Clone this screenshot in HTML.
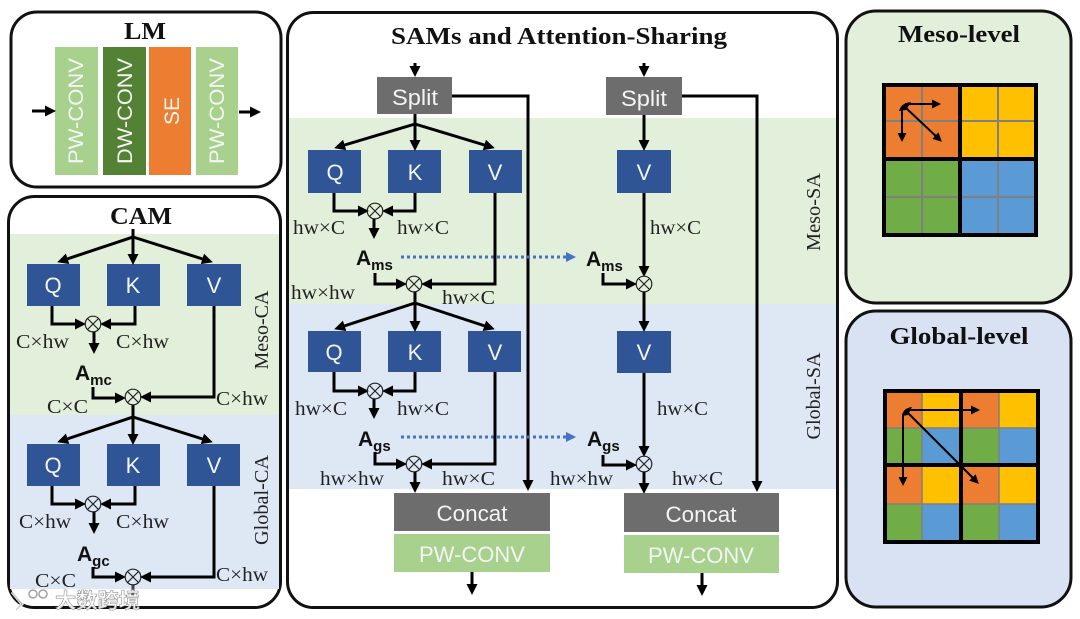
<!DOCTYPE html>
<html><head><meta charset="utf-8"><style>
html,body{margin:0;padding:0;background:#fff;width:1080px;height:619px;overflow:hidden}
svg{display:block}
.s{font-family:"Liberation Serif",serif;font-size:20px;fill:#222}
.t{font-family:"Liberation Serif",serif;font-weight:bold;fill:#111}
.w{font-family:"Liberation Sans",sans-serif;fill:#f4f4f4;text-anchor:middle}
.a{font-family:"Liberation Sans",sans-serif;font-weight:bold;fill:#111;font-size:21px}
.a tspan{font-size:15px}
.l{fill:none;stroke:#000;stroke-width:3}
.h{fill:none;stroke:#000;stroke-width:3;marker-end:url(#m)}
.p{fill:none;stroke:#000;stroke-width:3;stroke-linejoin:miter}
.x{fill:none;stroke:#222;stroke-width:1.2}
.g{stroke:#808080;stroke-width:2}
.k{stroke:#000;stroke-width:4;fill:none}
.n{stroke:#000;stroke-width:2;fill:none;marker-end:url(#n)}
</style></head><body>
<svg width="1080" height="619" viewBox="0 0 1080 619" xmlns="http://www.w3.org/2000/svg">
<defs>
<marker id="m" markerUnits="userSpaceOnUse" markerWidth="13" markerHeight="13" refX="7" refY="5.5" orient="auto"><path d="M0,0L11,5.5L0,11z" fill="#000"/></marker>
<marker id="n" markerUnits="userSpaceOnUse" markerWidth="11" markerHeight="11" refX="5" refY="4.5" orient="auto"><path d="M0,0L9,4.5L0,9z" fill="#000"/></marker>
<marker id="b" markerUnits="userSpaceOnUse" markerWidth="12" markerHeight="12" refX="1" refY="5" orient="auto"><path d="M0,0L10,5L0,10z" fill="#4472c4"/></marker>
<symbol id="o" overflow="visible"><circle cx="0" cy="0" r="7.8" class="x"/><path d="M-5.5,-5.5L5.5,5.5M-5.5,5.5L5.5,-5.5" class="x"/></symbol>
</defs>

<!-- LM -->
<rect x="11" y="12" width="270" height="175" rx="26" fill="#fff" stroke="#111" stroke-width="3"/>
<text class="t" x="145" y="39" font-size="24" text-anchor="middle" textLength="42" lengthAdjust="spacingAndGlyphs">LM</text>
<rect x="55" y="47" width="43" height="128" fill="#a9d18e"/>
<rect x="103" y="47" width="43" height="128" fill="#548235"/>
<rect x="149" y="47" width="42" height="128" fill="#ed7d31"/>
<rect x="196" y="47" width="42" height="128" fill="#a9d18e"/>
<text transform="translate(83,111) rotate(-90)" class="w" font-size="21" textLength="106" lengthAdjust="spacingAndGlyphs">PW-CONV</text>
<text transform="translate(132,111) rotate(-90)" class="w" font-size="21" textLength="106" lengthAdjust="spacingAndGlyphs">DW-CONV</text>
<text transform="translate(179,111) rotate(-90)" class="w" font-size="21">SE</text>
<text transform="translate(224,111) rotate(-90)" class="w" font-size="21" textLength="106" lengthAdjust="spacingAndGlyphs">PW-CONV</text>
<path class="h" d="M32,111H52"/><path class="h" d="M239,112H257"/>

<!-- CAM -->
<rect x="8.5" y="196.5" width="272" height="411" rx="26" fill="#fff" stroke="#111" stroke-width="3"/>
<rect x="10" y="234" width="269" height="181" fill="#e2efda"/>
<rect x="10" y="415" width="269" height="174" fill="#dee8f5"/>
<text class="t" x="141" y="224" font-size="24" text-anchor="middle" textLength="62" lengthAdjust="spacingAndGlyphs">CAM</text>
<g fill="#2f5597">
<rect x="27" y="264" width="53" height="42"/><rect x="107" y="264" width="53" height="42"/><rect x="187" y="264" width="54" height="42"/>
<rect x="27" y="444" width="53" height="42"/><rect x="107" y="444" width="53" height="42"/><rect x="187" y="444" width="53" height="42"/>
</g>
<g class="w" font-size="22">
<text x="53" y="293">Q</text><text x="133" y="293">K</text><text x="214" y="293">V</text>
<text x="53" y="473">Q</text><text x="133" y="473">K</text><text x="214" y="473">V</text>
</g>
<path class="l" d="M133,229V237"/>
<path class="h" d="M133,237L61,261"/><path class="h" d="M133,237V261"/><path class="h" d="M133,237L209,261"/>
<path class="p" d="M52,306V324H82"/><path class="h" d="M52,324H82"/>
<path class="p" d="M135,306V324H104"/><path class="h" d="M135,324H104"/>
<use href="#o" x="93" y="324"/>
<path class="h" d="M94,332V350"/>
<text class="a" x="75" y="380">A<tspan dy="5">mc</tspan></text>
<path class="p" d="M93,387V398H122"/><path class="h" d="M93,398H122"/>
<use href="#o" x="133" y="397"/>
<path class="p" d="M214,306V397H144"/><path class="h" d="M214,397H144"/>
<path class="l" d="M133,405V417"/>
<path class="h" d="M133,417L61,441"/><path class="h" d="M133,417V441"/><path class="h" d="M133,417L209,441"/>
<path class="p" d="M52,486V504H82"/><path class="h" d="M52,504H82"/>
<path class="p" d="M135,486V504H104"/><path class="h" d="M135,504H104"/>
<use href="#o" x="93" y="504"/>
<path class="h" d="M94,512V530"/>
<text class="a" x="77" y="561">A<tspan dy="5">gc</tspan></text>
<path class="p" d="M93,567V577H122"/><path class="h" d="M93,577H122"/>
<use href="#o" x="133" y="577"/>
<path class="p" d="M214,486V577H144"/><path class="h" d="M214,577H144"/>
<path class="l" d="M133,585V596" stroke-opacity=".7"/>
<g class="s">
<text x="16" y="348" textLength="53" lengthAdjust="spacingAndGlyphs">C×hw</text><text x="116" y="348" textLength="53" lengthAdjust="spacingAndGlyphs">C×hw</text>
<text x="47" y="413" textLength="41" lengthAdjust="spacingAndGlyphs">C×C</text><text x="216" y="405" textLength="52" lengthAdjust="spacingAndGlyphs">C×hw</text>
<text x="19" y="528" textLength="52" lengthAdjust="spacingAndGlyphs">C×hw</text><text x="116" y="528" textLength="53" lengthAdjust="spacingAndGlyphs">C×hw</text>
<text x="35" y="587" textLength="41" lengthAdjust="spacingAndGlyphs">C×C</text><text x="216" y="581" textLength="52" lengthAdjust="spacingAndGlyphs">C×hw</text>
</g>
<text class="s" transform="translate(268,330) rotate(-90)" text-anchor="middle" textLength="79" lengthAdjust="spacingAndGlyphs">Meso-CA</text>
<text class="s" transform="translate(268,500) rotate(-90)" text-anchor="middle" textLength="90" lengthAdjust="spacingAndGlyphs">Global-CA</text>

<!-- SAM panel -->
<rect x="287.5" y="12.5" width="550" height="595" rx="26" fill="#fff" stroke="#111" stroke-width="3"/>
<rect x="289" y="118" width="547" height="186" fill="#e2efda"/>
<rect x="289" y="304" width="547" height="185" fill="#dee8f5"/>
<text class="t" x="559" y="44" font-size="24" text-anchor="middle" textLength="336" lengthAdjust="spacingAndGlyphs">SAMs and Attention-Sharing</text>
<rect x="377" y="77" width="75" height="37" fill="#6d6d6d"/>
<rect x="606" y="77" width="76" height="38" fill="#6d6d6d"/>
<g fill="#2f5597">
<rect x="308" y="150" width="53" height="43"/><rect x="388" y="150" width="53" height="43"/><rect x="469" y="150" width="53" height="43"/>
<rect x="308" y="331" width="53" height="41"/><rect x="388" y="331" width="53" height="41"/><rect x="468" y="331" width="53" height="41"/>
<rect x="617" y="150" width="54" height="43"/><rect x="617" y="331" width="54" height="42"/>
</g>
<g class="w" font-size="22">
<text x="415" y="105" textLength="46" lengthAdjust="spacingAndGlyphs">Split</text>
<text x="644" y="106" textLength="46" lengthAdjust="spacingAndGlyphs">Split</text>
<text x="335" y="180">Q</text><text x="415" y="180">K</text><text x="495" y="180">V</text>
<text x="334" y="360">Q</text><text x="415" y="360">K</text><text x="495" y="360">V</text>
<text x="644" y="180">V</text><text x="644" y="360">V</text>
</g>
<path class="h" d="M415,63V73"/>
<path class="l" d="M415,114V124"/>
<path class="h" d="M415,124L338,147"/><path class="h" d="M415,124V147"/><path class="h" d="M415,124L491,147"/>
<path class="p" d="M452,96H528V484"/><path class="h" d="M528,96V487"/>
<path class="p" d="M334,193V211H365"/><path class="h" d="M334,211H365"/>
<path class="p" d="M415,193V211H386"/><path class="h" d="M415,211H386"/>
<use href="#o" x="375" y="211"/>
<path class="h" d="M374,219V235"/>
<text class="a" x="356" y="265">A<tspan dy="5">ms</tspan></text>
<path d="M401,257H567" fill="none" stroke="#4472c4" stroke-width="3" stroke-dasharray="3 3" marker-end="url(#b)"/>
<path class="p" d="M375,273V284H403"/><path class="h" d="M375,284H403"/>
<use href="#o" x="414" y="284"/>
<path class="p" d="M495,193V284H425"/><path class="h" d="M495,284H425"/>
<path class="l" d="M415,292V303"/>
<path class="h" d="M415,303L338,328"/><path class="h" d="M415,303V328"/><path class="h" d="M415,303L491,328"/>
<path class="p" d="M334,372V391H365"/><path class="h" d="M334,391H365"/>
<path class="p" d="M415,372V391H386"/><path class="h" d="M415,391H386"/>
<use href="#o" x="375" y="391"/>
<path class="h" d="M374,399V415"/>
<text class="a" x="358" y="446">A<tspan dy="5">gs</tspan></text>
<path d="M401,437H567" fill="none" stroke="#4472c4" stroke-width="3" stroke-dasharray="3 3" marker-end="url(#b)"/>
<path class="p" d="M375,452V464H403"/><path class="h" d="M375,464H403"/>
<use href="#o" x="414" y="464"/>
<path class="p" d="M495,372V464H425"/><path class="h" d="M495,464H425"/>
<path class="h" d="M415,472V489"/>

<path class="h" d="M644,63V73"/>
<path class="h" d="M644,115V147"/>
<path class="p" d="M682,96H757V486"/><path class="h" d="M757,96V488"/>
<path class="h" d="M644,193V273"/>
<use href="#o" x="644" y="284"/>
<text class="a" x="586" y="266">A<tspan dy="5">ms</tspan></text>
<path class="p" d="M603,273V284H633"/><path class="h" d="M603,284H633"/>
<path class="h" d="M644,292V328"/>
<path class="h" d="M644,373V453"/>
<use href="#o" x="644" y="464"/>
<text class="a" x="587" y="446">A<tspan dy="5">gs</tspan></text>
<path class="p" d="M603,455V465H633"/><path class="h" d="M603,465H633"/>
<path class="h" d="M644,472V490"/>

<rect x="394" y="493" width="156" height="38" fill="#6d6d6d"/>
<rect x="394" y="534" width="156" height="38" fill="#a9d18e"/>
<rect x="624" y="493" width="155" height="39" fill="#6d6d6d"/>
<rect x="624" y="535" width="155" height="38" fill="#a9d18e"/>
<g class="w" font-size="22">
<text x="472" y="521" textLength="71" lengthAdjust="spacingAndGlyphs">Concat</text>
<text x="472" y="562" textLength="106" lengthAdjust="spacingAndGlyphs">PW-CONV</text>
<text x="701" y="522" textLength="71" lengthAdjust="spacingAndGlyphs">Concat</text>
<text x="701" y="563" textLength="106" lengthAdjust="spacingAndGlyphs">PW-CONV</text>
</g>
<path class="h" d="M472,572V591"/><path class="h" d="M702,573V592"/>
<g class="s">
<text x="293" y="234" textLength="52" lengthAdjust="spacingAndGlyphs">hw×C</text><text x="397" y="234" textLength="52" lengthAdjust="spacingAndGlyphs">hw×C</text>
<text x="291" y="299" textLength="64" lengthAdjust="spacingAndGlyphs">hw×hw</text><text x="442" y="304" textLength="53" lengthAdjust="spacingAndGlyphs">hw×C</text>
<text x="295" y="415" textLength="52" lengthAdjust="spacingAndGlyphs">hw×C</text><text x="397" y="415" textLength="52" lengthAdjust="spacingAndGlyphs">hw×C</text>
<text x="320" y="485" textLength="64" lengthAdjust="spacingAndGlyphs">hw×hw</text><text x="442" y="485" textLength="53" lengthAdjust="spacingAndGlyphs">hw×C</text>
<text x="650" y="234" textLength="51" lengthAdjust="spacingAndGlyphs">hw×C</text><text x="657" y="415" textLength="51" lengthAdjust="spacingAndGlyphs">hw×C</text>
<text x="550" y="485" textLength="63" lengthAdjust="spacingAndGlyphs">hw×hw</text><text x="672" y="485" textLength="51" lengthAdjust="spacingAndGlyphs">hw×C</text>
</g>
<text class="s" transform="translate(820,212) rotate(-90)" text-anchor="middle" textLength="78" lengthAdjust="spacingAndGlyphs">Meso-SA</text>
<text class="s" transform="translate(820,396) rotate(-90)" text-anchor="middle" textLength="87" lengthAdjust="spacingAndGlyphs">Global-SA</text>

<!-- Meso-level -->
<rect x="846" y="11" width="225" height="292" rx="30" fill="#e2efda" stroke="#111" stroke-width="3"/>
<text class="t" x="959" y="42" font-size="24" text-anchor="middle" textLength="122" lengthAdjust="spacingAndGlyphs">Meso-level</text>
<rect x="884" y="84" width="76" height="75" fill="#ed7d31"/>
<rect x="960" y="84" width="76" height="75" fill="#ffc000"/>
<rect x="884" y="159" width="76" height="75" fill="#70ad47"/>
<rect x="960" y="159" width="76" height="75" fill="#5b9bd5"/>
<path class="g" d="M922,84V234M998,84V234M884,121H1036M884,197H1036"/>
<path class="k" d="M884,85H1036V235H884ZM960,85V235M884,159H1036"/>
<path d="M899,111Q901,103 911,102L906,110Z" fill="#000"/>
<path class="n" d="M905,104H937"/><path class="n" d="M902,110V138"/><path class="n" d="M906,108L939,139"/>

<!-- Global-level -->
<rect x="846" y="311" width="225" height="296" rx="30" fill="#d9e2f3" stroke="#111" stroke-width="3"/>
<text class="t" x="959" y="344" font-size="24" text-anchor="middle" textLength="139" lengthAdjust="spacingAndGlyphs">Global-level</text>
<g>
<rect x="884" y="390" width="38" height="38" fill="#ed7d31"/><rect x="922" y="390" width="39" height="38" fill="#ffc000"/><rect x="961" y="390" width="38" height="38" fill="#ed7d31"/><rect x="999" y="390" width="39" height="38" fill="#ffc000"/>
<rect x="884" y="428" width="38" height="37" fill="#70ad47"/><rect x="922" y="428" width="39" height="37" fill="#5b9bd5"/><rect x="961" y="428" width="38" height="37" fill="#70ad47"/><rect x="999" y="428" width="39" height="37" fill="#5b9bd5"/>
<rect x="884" y="465" width="38" height="39" fill="#ed7d31"/><rect x="922" y="465" width="39" height="39" fill="#ffc000"/><rect x="961" y="465" width="38" height="39" fill="#ed7d31"/><rect x="999" y="465" width="39" height="39" fill="#ffc000"/>
<rect x="884" y="504" width="38" height="38" fill="#70ad47"/><rect x="922" y="504" width="39" height="38" fill="#5b9bd5"/><rect x="961" y="504" width="38" height="38" fill="#70ad47"/><rect x="999" y="504" width="39" height="38" fill="#5b9bd5"/>
</g>
<path d="M922,390V542M999,390V542M884,428H1038M884,504H1038" stroke="#808080" stroke-width="1.5"/>
<path class="k" d="M885,391H1038V542H885ZM961,391V542M885,465H1038"/>
<path d="M902,416Q903,408 912,407L908,415Z" fill="#000"/>
<path class="n" d="M908,410H976"/><path class="n" d="M903,414V482"/><path class="n" d="M908,413L976,481"/>

<!-- watermark -->
<g opacity=".9">
<path d="M12,592L22,604L16,610" fill="none" stroke="#fff" stroke-width="3"/>
<path d="M12,592L22,604L16,610" fill="none" stroke="#bbb" stroke-width="1"/>
<circle cx="33" cy="594" r="4" fill="#fff" stroke="#999" stroke-width="1.5"/><circle cx="43" cy="594" r="4" fill="#fff" stroke="#999" stroke-width="1.5"/>
<text x="55" y="608" font-family="'Liberation Sans','Noto Sans CJK SC',sans-serif" font-size="21" font-weight="bold" fill="#fff" stroke="#888" stroke-width=".6" textLength="85" lengthAdjust="spacingAndGlyphs">大数跨境</text>
</g>
</svg>
</body></html>
